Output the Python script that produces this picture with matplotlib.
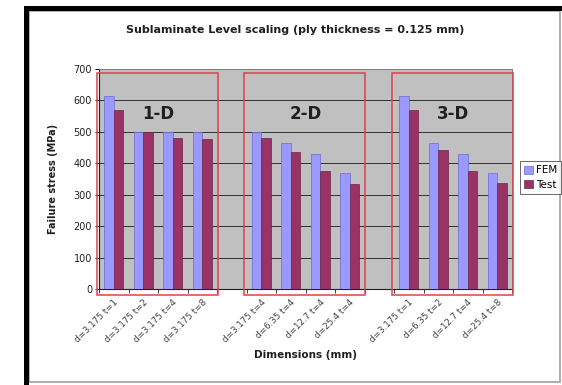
import numpy as np
import matplotlib.pyplot as plt
from matplotlib.patches import Rectangle

# categories (blank slots separate the 1-D / 2-D / 3-D groups)
labels = ['d=3.175 t=1', 'd=3.175 t=2', 'd=3.175 t=4', 'd=3.175 t=8', '',
          'd=3.175 t=4', 'd=6.35 t=4', 'd=12.7 t=4', 'd=25.4 t=4', '',
          'd=3.175 t=1', 'd=6.35 t=2', 'd=12.7 t=4', 'd=25.4 t=8']
fem = [613, 500, 500, 500, np.nan, 500, 463, 428, 368, np.nan, 613, 463, 428, 370]
test = [571, 500, 482, 478, np.nan, 481, 436, 376, 333, np.nan, 571, 441, 376, 336]
groups = ['1-D', '2-D', '3-D']
group_spans = [(0, 3), (5, 8), (10, 13)]

W, H = 562, 385
fig = plt.figure(figsize=(W / 100, H / 100), dpi=100)

def px(x0, y0, x1, y1):
    # pixel box (top-left origin) -> figure fraction rect
    return (x0 / W, (H - y1) / H, (x1 - x0) / W, (y1 - y0) / H)

def frame_rect(box, **kw):
    r = px(*box)
    fig.add_artist(Rectangle(r[:2], r[2], r[3], transform=fig.transFigure, **kw))

# chart frame with heavy black edge on left and top
frame_rect((29, 11, 560, 382), facecolor='white', edgecolor='#a0a0a0', lw=1.2, zorder=0)
frame_rect((24, 6, 562, 11), facecolor='black', lw=0)
frame_rect((24, 6, 29, 385), facecolor='black', lw=0)

ax = fig.add_axes(px(99, 69, 512, 289))
ax.set_facecolor('#c0c0c0')

x = np.arange(len(labels))
w = 0.315
ax.bar(x - w / 2, fem, w, color='#9999ff', edgecolor='#6a6ad0', lw=0.5,
       label='FEM', zorder=3)
ax.bar(x + w / 2, test, w, color='#993366', edgecolor='#702448', lw=0.5,
       label='Test', zorder=3)

ax.set_xlim(-0.5, len(labels) - 0.5)
ax.set_ylim(0, 700)
ax.set_yticks(range(0, 701, 100))
ax.yaxis.grid(True, color='#303030', lw=0.7, zorder=1)
ax.tick_params(axis='y', labelsize=7, length=3, width=0.7, pad=2,
               labelcolor='#202020')

ax.set_xticks(x)
ax.set_xticklabels(labels, rotation=45, ha='right', va='top',
                   rotation_mode='anchor', fontsize=6.3, color='#404040')
ax.tick_params(axis='x', length=0, pad=6)
ax.set_xticks(np.arange(-0.5, len(labels), 1), minor=True)
ax.tick_params(axis='x', which='minor', length=3, width=0.7, color='#404040')

for s in ['top', 'right']:
    ax.spines[s].set_color('#808080')
    ax.spines[s].set_linewidth(0.7)
for s in ['left', 'bottom']:
    ax.spines[s].set_color('#202020')
    ax.spines[s].set_linewidth(0.8)

# red boxes marking each group
for name, (a, b) in zip(groups, group_spans):
    r = Rectangle((a - 0.57, -20), b - a + 1.1, 707, fill=False,
                  edgecolor='#e0404a', lw=1.1, clip_on=False, zorder=4)
    ax.add_patch(r)
    ax.text((a + b) / 2, 558, name, ha='center', va='center',
            fontsize=12, fontweight='bold', color='#202020', zorder=5)

ax.set_ylabel('Failure stress (MPa)', fontsize=7, fontweight='bold',
              color='#202020', labelpad=11)
ax.set_xlabel('Dimensions (mm)', fontsize=7.5, fontweight='bold',
              color='#202020', labelpad=4)
fig.text(295 / W, (H - 30) / H, 'Sublaminate Level scaling (ply thickness = 0.125 mm)',
         ha='center', va='center', fontsize=8, fontweight='bold', color='#202020')

leg = ax.legend(loc='upper left', bbox_to_anchor=(520 / W, (H - 161) / H),
                bbox_transform=fig.transFigure, fontsize=7.5, frameon=True,
                fancybox=False, handlelength=0.8, handleheight=0.8,
                handletextpad=0.3, borderpad=0.4, labelspacing=0.45,
                borderaxespad=0)
leg.get_frame().set_edgecolor('#404040')
leg.get_frame().set_linewidth(0.7)

fig.savefig('out.png', dpi=100)
